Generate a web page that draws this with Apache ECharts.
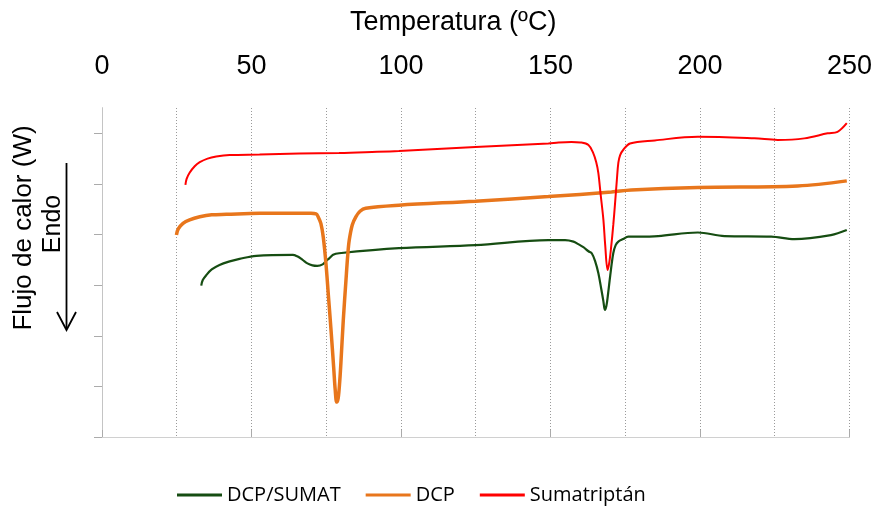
<!DOCTYPE html>
<html lang="es">
<head>
    <meta charset="UTF-8">
    <title>DSC</title>
    <script src="https://cdn.jsdelivr.net/npm/echarts@6/dist/echarts.min.js"></script>
    <style>
        html, body { margin: 0; padding: 0; background: #fff; }
        #chart { width: 875px; height: 511px; }
    </style>
</head>
<body>
<div id="chart"></div>
<script>
    // temperatura (ºC) y flujo de calor (unidades arbitrarias)
    var tempMix = [33.2, 33.7, 34.9, 36.7, 39.3, 42.7, 46, 51.6, 63.8, 65.3, 67.1, 68.7, 70.4, 72, 73.8, 75, 76, 77.3, 79.3, 99.3, 124.9, 149.3, 154.9, 157.7, 159.3, 161, 162.7, 163.8, 165, 166, 167, 167.7, 168.2, 168.7, 169.3, 170, 171, 171.8, 172.7, 174.3, 176, 179.3, 186, 199.3, 208.2, 223.8, 231.6, 243.8, 249.1];
    var flowMix = [2.99, 3.10, 3.20, 3.31, 3.40, 3.47, 3.52, 3.58, 3.60, 3.57, 3.50, 3.43, 3.39, 3.38, 3.41, 3.48, 3.53, 3.60, 3.63, 3.73, 3.79, 3.89, 3.89, 3.86, 3.81, 3.75, 3.67, 3.63, 3.46, 3.24, 2.92, 2.68, 2.51, 2.59, 2.85, 3.20, 3.63, 3.79, 3.86, 3.91, 3.96, 3.96, 3.97, 4.04, 3.97, 3.96, 3.91, 3.99, 4.09];

    var tempDCP = [24.9, 25.5, 27.1, 29.3, 32.7, 36.7, 41.6, 52.7, 69.9, 71.6, 72.3, 73.2, 74.0, 74.9, 75.7, 76.6, 77.5, 78.0, 78.5, 79.0, 79.5, 79.9, 80.7, 81.6, 82.2, 82.7, 83.7, 84.9, 86.3, 88.2, 99.3, 124.9, 149.3, 170.4, 177, 199.3, 232.7, 249.1];
    var flowDCP = [3.99, 4.11, 4.22, 4.29, 4.35, 4.39, 4.40, 4.42, 4.42, 4.41, 4.35, 4.22, 3.95, 3.43, 2.81, 2.11, 1.36, 0.93, 0.69, 0.77, 1.09, 1.46, 2.31, 3.10, 3.60, 3.89, 4.19, 4.35, 4.46, 4.52, 4.58, 4.66, 4.75, 4.84, 4.88, 4.93, 4.96, 5.06];

    var tempSum = [27.9, 28.3, 29.3, 31.0, 32.7, 35.3, 38.2, 42.7, 52.7, 66, 79.3, 90.3, 99.3, 124.9, 149.3, 152.7, 157.0, 160.0, 162.7, 164.3, 165.3, 166.0, 166.8, 167.7, 168.3, 169.1, 169.7, 170.3, 171.0, 171.6, 172.2, 172.7, 173.3, 174.3, 176.6, 184.9, 199.3, 218.2, 226, 234.9, 242.7, 246, 249.1];
    var flowSum = [4.98, 5.10, 5.22, 5.35, 5.43, 5.50, 5.54, 5.57, 5.58, 5.60, 5.61, 5.63, 5.65, 5.73, 5.80, 5.82, 5.83, 5.82, 5.77, 5.61, 5.43, 5.22, 4.78, 4.29, 3.79, 3.30, 3.46, 3.76, 4.19, 4.62, 5.08, 5.42, 5.57, 5.67, 5.80, 5.86, 5.93, 5.90, 5.87, 5.90, 6.00, 6.03, 6.20];

    var yTicks = [0, 1, 2, 3, 4, 5, 6];

    function pares(t, f) {
        var out = [];
        for (var i = 0; i < t.length; i++) {
            out.push([t[i], f[i]]);
        }
        return out;
    }

    var myChart = echarts.init(document.getElementById('chart'));
    var axisGris = '#ababab';

    var option = {
        animation: false,
        textStyle: { fontFamily: 'Liberation Sans' },
        title: {
            text: 'Temperatura (ºC)',
            left: 345,
            top: 4,
            textStyle: { fontSize: 27, fontWeight: 'normal', color: '#000', fontFamily: 'Liberation Sans' }
        },
        legend: {
            bottom: 1,
            left: 172,
            itemWidth: 45,
            itemHeight: 3,
            itemGap: 25,
            icon: 'rect',
            textStyle: { fontSize: 20, color: '#000', fontFamily: 'Open Sans' },
            data: ['DCP/SUMAT', 'DCP', 'Sumatriptán']
        },
        grid: { left: 102, right: 23, top: 108, bottom: 74 },
        xAxis: [
            {
                type: 'value',
                position: 'top',
                min: 0, max: 250, interval: 50,
                axisLine: { show: true, lineStyle: { color: axisGris } },
                axisTick: { show: true, length: 7, lineStyle: { color: axisGris } },
                axisLabel: { fontSize: 27, color: '#000', margin: 28 },
                splitLine: { show: false }
            },
            {
                type: 'value',
                position: 'bottom',
                min: 0, max: 250, interval: 25,
                axisLine: { show: true, onZero: false, lineStyle: { color: '#d0d0d0' } },
                axisTick: { show: false },
                axisLabel: { show: false },
                splitLine: { show: true, lineStyle: { color: '#9a9a9a', type: [1, 2], width: 1 } }
            }
        ],
        yAxis: [
            {
                type: 'value',
                min: 0, max: 6.5,
                axisLine: { show: true, lineStyle: { color: axisGris } },
                axisTick: { show: true, length: 8, inside: false, customValues: yTicks, lineStyle: { color: axisGris } },
                axisLabel: { show: false },
                splitLine: { show: false }
            },
            {
                type: 'value',
                position: 'right',
                min: 0, max: 6.5,
                axisLine: { show: true, lineStyle: { color: '#c4c4c4' } },
                axisTick: { show: false },
                axisLabel: { show: false },
                splitLine: { show: false }
            }
        ],
        graphic: [
            {
                type: 'text',
                x: 24, y: 228,
                rotation: Math.PI / 2,
                style: {
                    text: 'Flujo de calor (W)',
                    fontSize: 26,
                    fontFamily: 'Liberation Sans',
                    fill: '#000',
                    align: 'center',
                    verticalAlign: 'middle'
                }
            },
            {
                type: 'text',
                x: 53, y: 224,
                rotation: Math.PI / 2,
                style: {
                    text: 'Endo',
                    fontSize: 25,
                    fontFamily: 'Liberation Sans',
                    fill: '#000',
                    align: 'center',
                    verticalAlign: 'middle'
                }
            },
            {
                type: 'line',
                shape: { x1: 66.5, y1: 163, x2: 66.5, y2: 329 },
                style: { stroke: '#000', lineWidth: 1.8 }
            },
            {
                type: 'polyline',
                shape: { points: [[57, 312], [66.5, 330], [76, 312]] },
                style: { stroke: '#000', lineWidth: 1.8, fill: null }
            }
        ],
        series: [
            {
                name: 'DCP/SUMAT',
                type: 'line',
                data: pares(tempMix, flowMix),
                showSymbol: false,
                smooth: 0.35,
                color: '#164d12',
                lineStyle: { width: 2.2, color: '#164d12' }
            },
            {
                name: 'DCP',
                type: 'line',
                data: pares(tempDCP, flowDCP),
                showSymbol: false,
                smooth: 0.35,
                color: '#e8761c',
                lineStyle: { width: 3.5, color: '#e8761c' }
            },
            {
                name: 'Sumatriptán',
                type: 'line',
                data: pares(tempSum, flowSum),
                showSymbol: false,
                smooth: 0.35,
                color: '#ff0000',
                lineStyle: { width: 2, color: '#ff0000' }
            }
        ]
    };

    myChart.setOption(option);
</script>
</body>
</html>
